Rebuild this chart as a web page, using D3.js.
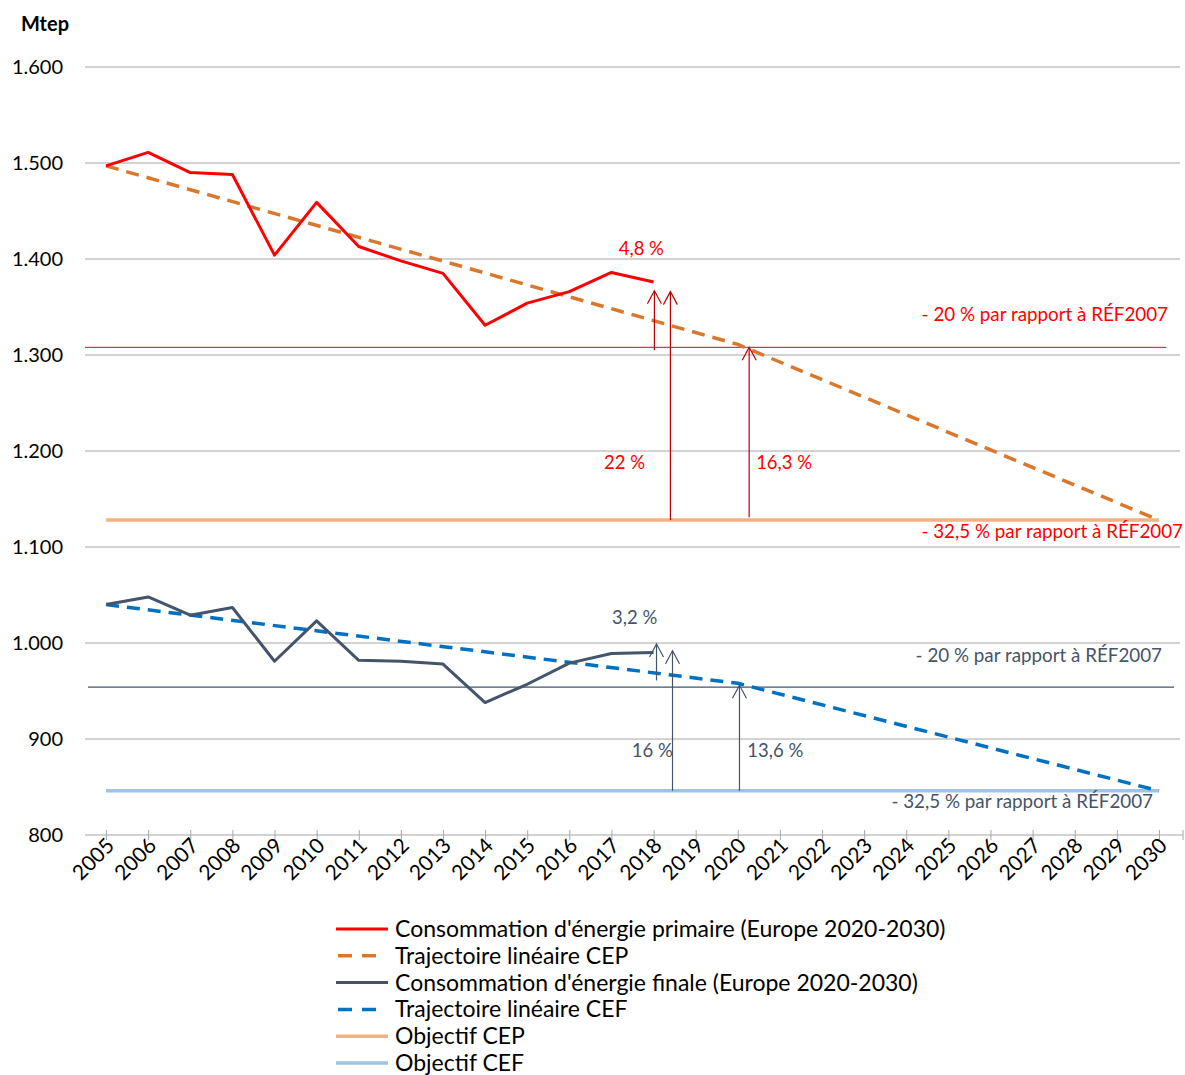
<!DOCTYPE html>
<html>
<head>
<meta charset="utf-8">
<script src="https://cdn.jsdelivr.net/npm/d3@7"></script>
<style>
  body { margin: 0; background: #fff; }
  svg { font-family: Lato, "Open Sans", sans-serif; }
</style>
</head>
<body>
<div id="chart"></div>
<script>
// years on the category axis
const years = d3.range(2005, 2031);
const obsYears = d3.range(2005, 2019);

// observed consumption (Mtep)
const cepValues = [1497, 1511, 1490, 1488, 1404, 1459, 1413, 1398, 1385, 1331, 1354, 1366, 1386, 1376];
const cefValues = [1040, 1048, 1029, 1037, 981, 1023, 982, 981, 978, 938, 957, 979, 989, 990];

// linear trajectories (year, value)
const trajCepYears = [2005, 2020, 2030];
const trajCepValues = [1497, 1311, 1128];
const trajCefYears = [2005, 2020, 2030];
const trajCefValues = [1040, 958, 846];

// targets
const objCep = 1128;
const objCef = 846;
const ref20Cep = 1308;
const ref20Cef = 954;

// y ticks
const yTicks = d3.range(800, 1601, 100);

// annotations: arrows (year position, from, to) and their labels (year, value)
const cepArrows = [[2018.02, 1305, 1367], [2018.4, 1128, 1366], [2020.27, 1131, 1308]];
const cefArrows = [[2018.07, 961, 999], [2018.45, 846, 992], [2020.04, 846, 956]];
const cepLabels = ["4,8 %", "22 %", "16,3 %"];
const cefLabels = ["3,2 %", "16 %", "13,6 %"];
const cepLabelPos = [[2017.71, 1404], [2017.31, 1181], [2021.1, 1181]];
const cefLabelPos = [[2017.55, 1020], [2017.97, 881], [2020.89, 881]];

const legendItems = [
  "Consommation d'énergie primaire (Europe 2020-2030)",
  "Trajectoire linéaire CEP",
  "Consommation d'énergie finale (Europe 2020-2030)",
  "Trajectoire linéaire CEF",
  "Objectif CEP",
  "Objectif CEF"
];

const w = 1185, h = 1075;
const mLeft = 85, mRight = 1180, mTop = 67, mBottom = 835;

const svg = d3.select("#chart").append("svg")
  .attr("width", w).attr("height", h);

const x = d3.scalePoint().domain(years).range([mLeft, mRight]).padding(0.5);
const xl = d3.scaleLinear().domain([2005, 2030]).range([x(2005), x(2030)]);
const y = d3.scaleLinear().domain([800, 1600]).range([mBottom, mTop]);

const fmt = d3.formatLocale({decimal: ",", thousands: ".", grouping: [3], currency: ["", ""]}).format(",");

// gridlines
svg.append("g").selectAll("line").data(yTicks.filter(d => d > 800)).enter().append("line")
  .attr("x1", mLeft).attr("x2", mRight)
  .attr("y1", d => y(d)).attr("y2", d => y(d))
  .attr("stroke", "#a6a6a6").attr("stroke-width", 1);

// y labels
svg.append("g").selectAll("text").data(yTicks).enter().append("text")
  .attr("x", 63).attr("y", d => y(d) + 7)
  .attr("text-anchor", "end")
  .attr("font-size", 20).attr("fill", "#000")
  .text(d => fmt(d));

svg.append("text").attr("x", 21).attr("y", 31)
  .attr("font-size", 20).attr("font-weight", "bold").text("Mtep");

// x axis
const xAxis = d3.axisBottom(x).tickSize(0).tickFormat("");
const gx = svg.append("g").attr("transform", `translate(0,${mBottom})`).call(xAxis);
gx.select(".domain").attr("stroke", "#a6a6a6").attr("stroke-width", 1.2)
  .attr("d", `M${mLeft},0H${mRight + 3}`);
gx.selectAll(".tick").append("line").attr("y1", -5).attr("y2", 5).attr("stroke", "#a6a6a6");
gx.append("line").attr("x1", mRight + 3).attr("x2", mRight + 3).attr("y1", -5).attr("y2", 5).attr("stroke", "#a6a6a6");
gx.selectAll(".tick").append("text")
  .attr("transform", "translate(9,12) rotate(-45)")
  .attr("text-anchor", "end")
  .attr("font-size", 21).attr("fill", "#000")
  .attr("font-family", "Lato, sans-serif")
  .text(d => d);

// reference lines (-20%)
svg.append("line").attr("x1", xl(2004.5)).attr("x2", xl(2030.17))
  .attr("y1", y(ref20Cep)).attr("y2", y(ref20Cep))
  .attr("stroke", "#ff0000").attr("stroke-width", 1);
svg.append("line").attr("x1", xl(2004.57)).attr("x2", xl(2030.36))
  .attr("y1", y(ref20Cef)).attr("y2", y(ref20Cef))
  .attr("stroke", "#44546a").attr("stroke-width", 1.2);

// objectives
svg.append("line").attr("x1", x(2005)).attr("x2", x(2030))
  .attr("y1", y(objCep)).attr("y2", y(objCep))
  .attr("stroke", "#f4b183").attr("stroke-width", 3.5);
svg.append("line").attr("x1", x(2005)).attr("x2", x(2030))
  .attr("y1", y(objCef)).attr("y2", y(objCef))
  .attr("stroke", "#9dc3e6").attr("stroke-width", 3.5);

const line = d3.line().x(d => xl(d[0])).y(d => y(d[1]));

// trajectories
svg.append("path").datum(d3.zip(trajCepYears, trajCepValues))
  .attr("d", line).attr("fill", "none")
  .attr("stroke", "#d9782d").attr("stroke-width", 3.5).attr("stroke-dasharray", "13,8");
svg.append("path").datum(d3.zip(trajCefYears, trajCefValues))
  .attr("d", line).attr("fill", "none")
  .attr("stroke", "#0070c0").attr("stroke-width", 3.5).attr("stroke-dasharray", "13,8");

// observed series
svg.append("path").datum(d3.zip(obsYears, cepValues))
  .attr("d", line).attr("fill", "none")
  .attr("stroke", "#ff0000").attr("stroke-width", 3).attr("stroke-linejoin", "round");
svg.append("path").datum(d3.zip(obsYears, cefValues))
  .attr("d", line).attr("fill", "none")
  .attr("stroke", "#44546a").attr("stroke-width", 3).attr("stroke-linejoin", "round");

// arrows
function arrows(data, color) {
  const g = svg.append("g").attr("stroke", color).attr("fill", "none").attr("stroke-width", 1.2);
  data.forEach(a => {
    const ax = xl(a[0]), y0 = y(a[1]), y1 = y(a[2]);
    g.append("line").attr("x1", ax).attr("x2", ax).attr("y1", y0).attr("y2", y1);
    g.append("path").attr("d", `M${ax - 7},${y1 + 13}L${ax},${y1}L${ax + 7},${y1 + 13}`);
  });
}
arrows(cepArrows, "#c00000");
arrows(cefArrows, "#44546a");

// arrow labels
svg.append("g").selectAll("text").data(cepLabels).enter().append("text")
  .attr("x", (d, i) => xl(cepLabelPos[i][0])).attr("y", (d, i) => y(cepLabelPos[i][1]))
  .attr("text-anchor", "middle").attr("font-size", 18.5).attr("fill", "#ff0000")
  .text(d => d);
svg.append("g").selectAll("text").data(cefLabels).enter().append("text")
  .attr("x", (d, i) => xl(cefLabelPos[i][0])).attr("y", (d, i) => y(cefLabelPos[i][1]))
  .attr("text-anchor", "middle").attr("font-size", 18.5).attr("fill", "#44546a")
  .text(d => d);

// target notes
const notes = [
  ["- 20 % par rapport à RÉF2007", 1168, ref20Cep, -26, "#ff0000"],
  ["- 32,5 % par rapport à RÉF2007", 1183, objCep, 18, "#ff0000"],
  ["- 20 % par rapport à RÉF2007", 1162, ref20Cef, -25, "#44546a"],
  ["- 32,5 % par rapport à RÉF2007", 1153, objCef, 17, "#44546a"]
];
svg.append("g").selectAll("text").data(notes).enter().append("text")
  .attr("x", d => d[1]).attr("y", d => y(d[2]) + d[3])
  .attr("text-anchor", "end").attr("font-size", 18.8).attr("fill", d => d[4])
  .text(d => d[0]);

// legend
const legend = svg.append("g").attr("id", "legend");
const lstyles = [
  ["#ff0000", null, 3],
  ["#d9782d", "14,10", 3.5],
  ["#44546a", null, 3],
  ["#0070c0", "14,10", 3.5],
  ["#f4b183", null, 3.5],
  ["#9dc3e6", null, 3.5]
];
legendItems.forEach((t, i) => {
  const ly = 929 + i * 26.8;
  legend.append("line").attr("x1", lstyles[i][1] ? 338 : 336).attr("x2", lstyles[i][1] ? 380 : 388)
    .attr("y1", ly).attr("y2", ly)
    .attr("stroke", lstyles[i][0]).attr("stroke-width", lstyles[i][2])
    .attr("stroke-dasharray", lstyles[i][1]);
  legend.append("text").attr("x", 395).attr("y", ly + 8)
    .attr("font-size", 23).attr("fill", "#000").text(t);
});
</script>
</body>
</html>
